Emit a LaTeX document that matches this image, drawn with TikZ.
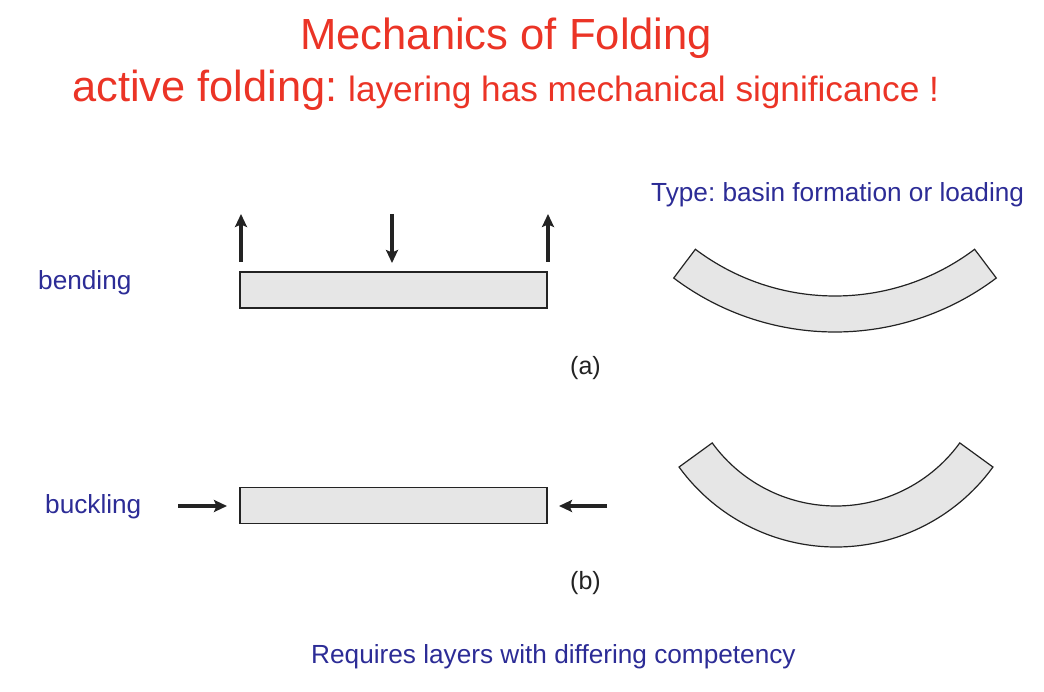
\documentclass[tikz,border=0pt]{standalone}
\usepackage{fontspec}
\setmainfont{Liberation Sans}
\usetikzlibrary{arrows.meta}
\frenchspacing
\definecolor{titlered}{RGB}{235,52,38}
\definecolor{labelblue}{RGB}{44,44,150}
\definecolor{platefill}{RGB}{230,230,230}
\definecolor{inkgray}{RGB}{35,35,35}
\tikzset{
  titletext/.style={anchor=base west,inner sep=0pt,text=titlered},
  bluetext/.style={anchor=base west,inner sep=0pt,text=labelblue,font=\fontsize{26.2}{30}\selectfont},
  captext/.style={anchor=base west,inner sep=0pt,text=inkgray,font=\fontsize{25}{29}\selectfont},
  plate/.style={draw=inkgray,line width=1.4pt,fill=platefill,minimum width=307pt,minimum height=36pt,inner sep=0pt},
  bentplate/.style={draw=inkgray,line width=1.2pt,fill=platefill,line join=miter},
  force/.style={draw=inkgray,line width=3.4pt,-{Stealth[length=13pt,width=12pt,inset=2.5pt]}}
}
\begin{document}
\begin{tikzpicture}[x=1pt,y=1pt]
\useasboundingbox (0,0) rectangle (1044,-692);
% titles
\node[titletext,font=\fontsize{43.6}{48}\selectfont] (t1) at (300,-50) {Mechanics of Folding};
\node[titletext,font=\fontsize{43.4}{48}\selectfont] (t2) at (72,-102) {active folding:};
\node[titletext,font=\fontsize{35.2}{40}\selectfont] (t3) at (348,-102) {layering has mechanical significance !};
% labels
\node[bluetext] (type) at (651,-202) {Type: basin formation or loading};
\node[bluetext] (bend) at (38,-290) {bending};
\node[bluetext] (buck) at (45,-513) {buckling};
\node[bluetext] (req) at (311,-663) {Requires layers with differing competency};
\node[captext] (capa) at (570,-374) {(a)};
\node[captext] (capb) at (570,-589) {(b)};
% plates
\node[plate] (pa) at (393.5,-290) {};
\node[plate] (pb) at (393.5,-505.5) {};
% bending forces
\coordinate (u1s) at (241,-262); \coordinate (u1e) at (241,-214);
\coordinate (u2s) at (548,-262); \coordinate (u2e) at (548,-214);
\coordinate (dns) at (392,-214); \coordinate (dne) at (392,-263);
\draw[force] (u1s) -- (u1e);
\draw[force] (u2s) -- (u2e);
\draw[force] (dns) -- (dne);
% buckling forces
\coordinate (ls) at (178,-506); \coordinate (le) at (227,-506);
\coordinate (rs) at (607,-506); \coordinate (re) at (559,-506);
\draw[force] (ls) -- (le);
\draw[force] (rs) -- (re);
% bent plates
\coordinate (ca) at (835,-64);
\draw[bentplate] ([shift={(233:268)}]ca) arc[start angle=233,end angle=307,radius=268]
  -- ([shift={(307:232)}]ca) arc[start angle=307,end angle=233,radius=232] -- cycle;
\coordinate (cb) at (836,-353);
\draw[bentplate] ([shift={(216:194)}]cb) arc[start angle=216,end angle=324,radius=194]
  -- ([shift={(324:153)}]cb) arc[start angle=324,end angle=216,radius=153] -- cycle;
\end{tikzpicture}
\end{document}
